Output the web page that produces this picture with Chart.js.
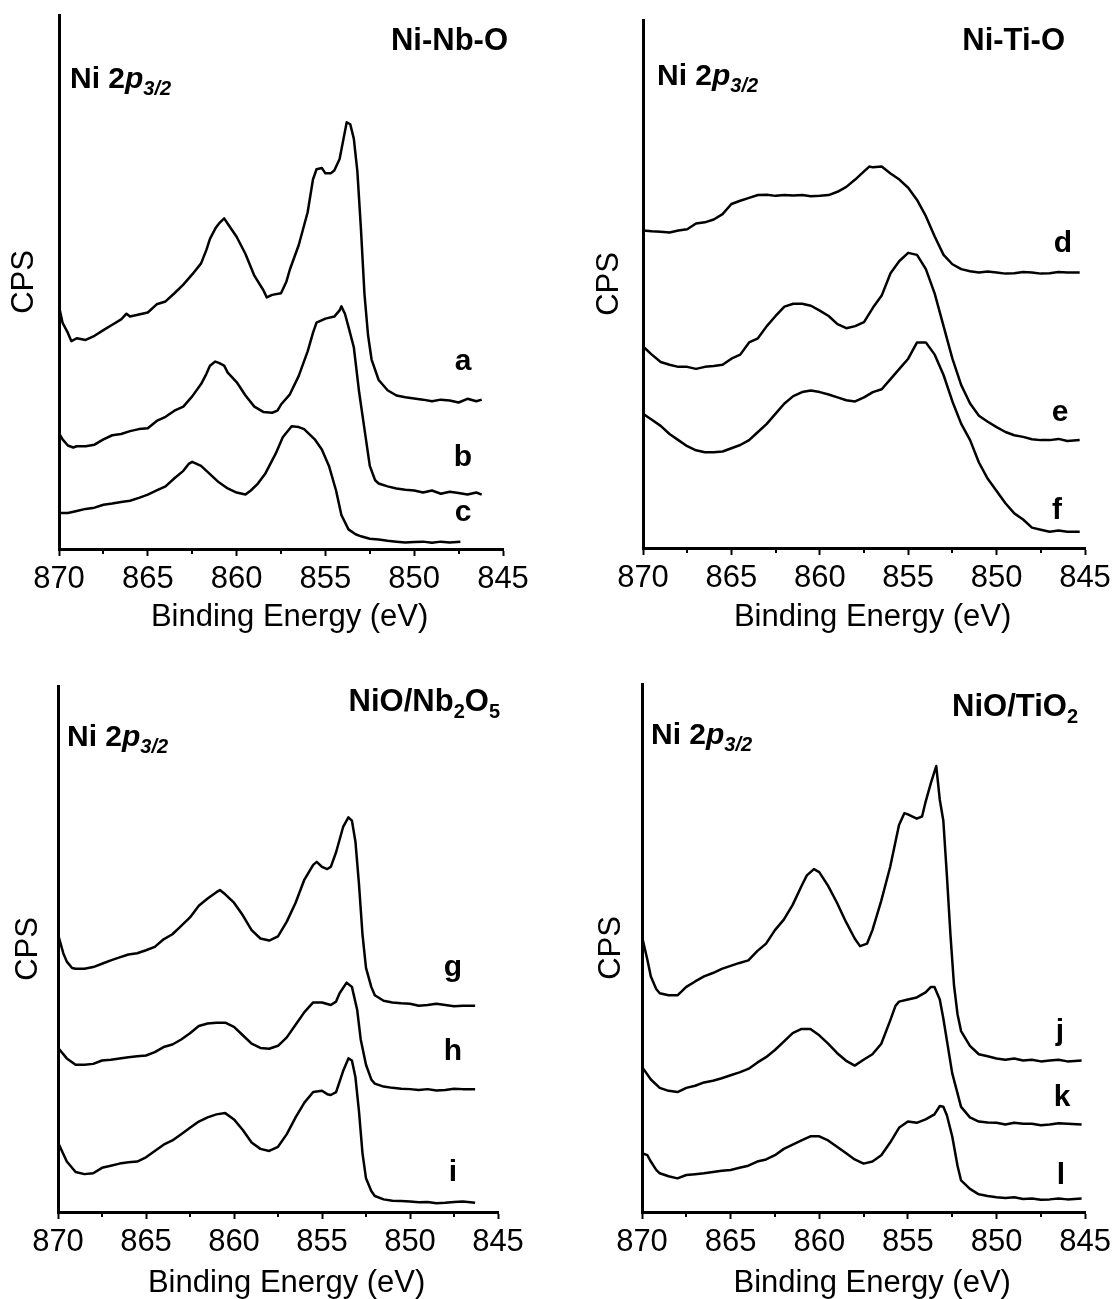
<!DOCTYPE html>
<html>
<head>
<meta charset="utf-8">
<script src="https://cdn.jsdelivr.net/npm/chart.js@4.4.0/dist/chart.umd.min.js"></script>
<style>
  body { margin: 0; background: #fff; width: 1116px; height: 1299px; position: relative; overflow: hidden; }
  canvas { position: absolute; }
</style>
</head>
<body>
<canvas id="p1" width="558" height="640" style="left:0;top:0"></canvas>
<canvas id="p2" width="558" height="640" style="left:558px;top:0"></canvas>
<canvas id="p3" width="558" height="652" style="left:0;top:650px"></canvas>
<canvas id="p4" width="558" height="652" style="left:558px;top:650px"></canvas>
<script>
// x axis: binding energy, shown reversed
var energyTicks = [870, 865, 860, 855, 850, 845];
var energyMinorTicks = [867.5, 862.5, 857.5, 852.5, 847.5];
var xLabel = "\u00a0\u00a0Binding Energy (eV)";
var yLabel = "CPS";

// spectra: [binding energy (eV), counts (arb. units)]
var specA = [[870,593],[869.8,553],[869.5,528],[869.3,508],[869,515],[868.5,511],[868,521],[867.5,535],[867,548],[866.5,561],[866.2,575],[866,568],[865.5,573],[865,578],[864.5,598],[864,605],[863.5,625],[863,646],[862.5,671],[862,698],[861.7,731],[861.5,758],[861.2,783],[861,795],[860.7,808],[860.5,795],[860,763],[859.5,721],[859,668],[858.5,633],[858.3,615],[858,621],[857.5,625],[857.2,653],[857,683],[856.5,743],[856,823],[855.7,903],[855.5,928],[855.2,931],[855,918],[854.7,918],[854.5,925],[854.2,953],[854,998],[853.8,1043],[853.6,1038],[853.4,1003],[853.2,923],[853,783],[852.8,623],[852.6,523],[852.4,463],[852,413],[851.5,388],[851,375],[850.5,371],[850,368],[849.5,365],[849,361],[848.5,365],[848,363],[847.5,358],[847,367],[846.5,361],[846.2,365]];
var specB = [[870,283],[869.8,268],[869.5,253],[869.2,248],[869,251],[868.5,251],[868,255],[867.5,268],[867,278],[866.5,281],[866,288],[865.5,293],[865,295],[864.5,313],[864,323],[863.5,338],[863,348],[862.5,373],[862,403],[861.7,428],[861.5,448],[861.2,458],[861,455],[860.7,448],[860.5,431],[860,408],[859.5,375],[859,348],[858.5,335],[858,333],[857.7,338],[857.5,353],[857,378],[856.5,423],[856,483],[855.7,528],[855.5,553],[855,563],[854.5,568],[854.2,583],[854.1,593],[853.9,575],[853.7,543],[853.4,493],[853.1,383],[852.8,293],[852.5,203],[852.2,168],[852,160],[851.5,153],[851,148],[850.5,145],[850,143],[849.5,138],[849,143],[848.5,135],[848,140],[847.5,137],[847,133],[846.5,138],[846.2,133]];
var specC = [[870,88],[869.5,88],[869,93],[868.5,98],[868,101],[867.5,108],[867,111],[866.5,115],[866,118],[865.5,125],[865,133],[864.5,143],[864,153],[863.5,173],[863,191],[862.7,208],[862.5,213],[862,203],[861.5,183],[861,163],[860.5,148],[860,138],[859.5,133],[859.2,143],[858.8,160],[858.4,183],[857.8,233],[857.4,273],[856.9,300],[856.5,298],[856.2,293],[855.6,268],[855.2,243],[854.8,203],[854.4,143],[854.1,83],[853.7,48],[853.3,36],[853,31],[852.5,25],[852,23],[851.5,20],[851,18],[850.5,16],[850,17],[849.5,18],[849,15],[848.5,18],[848,16],[847.4,18]];

var specD = [[870,780],[869.5,778],[869,777],[868.5,775],[868,780],[867.5,783],[867,797],[866.5,800],[866,807],[865.5,820],[865,845],[864.5,853],[864,860],[863.5,867],[863,868],[862.5,865],[862,867],[861.5,866],[861,867],[860.5,864],[860,865],[859.5,867],[859,875],[858.5,887],[858,905],[857.5,925],[857.2,937],[857,935],[856.5,937],[856,920],[855.5,905],[855,885],[854.5,855],[854,815],[853.5,765],[853,720],[852.5,697],[852,685],[851.5,680],[851,677],[850.5,679],[850,677],[849.5,674],[849,675],[848.5,678],[848,677],[847.5,674],[847,675],[846.5,678],[846,677],[845.3,677]];
var specE = [[870,495],[869.5,475],[869,457],[868.5,450],[868,445],[867.5,445],[867,440],[866.5,445],[866,447],[865.5,450],[865,465],[864.5,475],[864,505],[863.5,515],[863,545],[862.5,570],[862,593],[861.5,600],[861,600],[860.5,595],[860,583],[859.5,570],[859,550],[858.5,540],[858,545],[857.5,555],[857,590],[856.5,620],[856,675],[855.5,705],[855,725],[854.5,720],[854,685],[853.5,625],[853,545],[852.5,465],[852,400],[851.5,355],[851,325],[850.5,310],[850,297],[849.5,285],[849,277],[848.5,273],[848,267],[847.5,265],[847,265],[846.5,268],[846,263],[845.3,265]];
var specF = [[870,330],[869.5,315],[869,300],[868.5,280],[868,265],[867.5,250],[867,240],[866.5,235],[866,235],[865.5,237],[865,245],[864.5,253],[864,265],[863.5,285],[863,305],[862.5,330],[862,355],[861.5,373],[861,383],[860.5,387],[860,383],[859.5,377],[859,370],[858.5,363],[858,360],[857.5,370],[857,383],[856.5,390],[856,415],[855.5,440],[855,465],[854.5,505],[854,505],[853.5,475],[853,425],[852.5,360],[852,305],[851.5,265],[851,210],[850.5,170],[850,140],[849.5,110],[849,85],[848.5,70],[848,50],[847.5,45],[847,40],[846.5,43],[846,40],[845.3,40]];

var specG = [[870,660],[869.7,615],[869.5,595],[869.2,580],[869,578],[868.5,578],[868,582],[867.5,590],[867,598],[866.5,605],[866,612],[865.5,615],[865,622],[864.5,630],[864,648],[863.5,660],[863,680],[862.5,700],[862,728],[861.5,745],[861,760],[860.8,765],[860.5,755],[860,735],[859.5,705],[859,670],[858.5,650],[858,645],[857.5,655],[857,690],[856.5,735],[856,790],[855.5,825],[855.3,832],[855,820],[854.7,815],[854.5,820],[854.2,855],[853.8,915],[853.5,938],[853.3,930],[853.1,880],[852.9,780],[852.7,660],[852.5,580],[852.2,535],[852,515],[851.5,502],[851,498],[850.5,496],[850,495],[849.5,490],[849,492],[848.5,495],[848,492],[847.5,489],[847,490],[846.3,490]];
var specH = [[870,390],[869.5,365],[869,350],[868.5,350],[868,352],[867.5,360],[867,362],[866.5,365],[866,368],[865.5,370],[865,372],[864.5,380],[864,392],[863.5,398],[863,410],[862.5,425],[862,442],[861.5,448],[861,450],[860.5,450],[860,440],[859.5,420],[859,400],[858.5,390],[858,388],[857.5,395],[857,415],[856.5,445],[856,475],[855.5,498],[855,498],[854.5,492],[854.2,500],[854,520],[853.6,545],[853.3,535],[853,480],[852.8,410],[852.5,350],[852.2,315],[852,305],[851.5,298],[851,295],[850.5,293],[850,292],[849.5,290],[849,292],[848.5,289],[848,290],[847.5,293],[847,292],[846.3,292]];
var specI = [[870,165],[869.5,120],[869,95],[868.5,90],[868,92],[867.5,105],[867,110],[866.5,115],[866,118],[865.5,120],[865,130],[864.5,145],[864,160],[863.5,170],[863,185],[862.5,200],[862,215],[861.5,225],[861,232],[860.5,235],[860,220],[859.5,195],[859,165],[858.5,150],[858,145],[857.5,155],[857,185],[856.5,225],[856,260],[855.5,285],[855,288],[854.7,280],[854.5,278],[854.2,285],[853.8,335],[853.5,365],[853.3,360],[853.1,320],[852.9,240],[852.7,140],[852.5,80],[852.2,50],[852,38],[851.5,30],[851,27],[850.5,26],[850,25],[849.5,23],[849,24],[848.5,21],[848,22],[847.5,24],[847,25],[846.3,22]];

var specJ = [[870,655],[869.7,600],[869.5,560],[869.2,530],[869,520],[868.5,515],[868,515],[867.5,535],[867,548],[866.5,560],[866,568],[865.5,578],[865,585],[864.5,592],[864,598],[863.5,620],[863,638],[862.5,670],[862,695],[861.5,730],[861,775],[860.7,800],[860.3,815],[860,808],[859.5,775],[859,735],[858.5,690],[858,650],[857.7,632],[857.3,638],[857,670],[856.5,740],[856,820],[855.7,880],[855.5,920],[855.2,948],[855,945],[854.5,935],[854.2,940],[854,975],[853.7,1020],[853.4,1060],[853.2,980],[853,930],[852.8,800],[852.6,660],[852.4,540],[852.2,470],[852,430],[851.5,395],[851,375],[850.5,370],[850,365],[849.5,362],[849,365],[848.5,360],[848,362],[847.5,358],[847,360],[846.5,362],[846,358],[845.2,360]];
var specK = [[870,345],[869.5,315],[869,295],[868.5,288],[868,285],[867.5,295],[867,300],[866.5,308],[866,312],[865.5,318],[865,325],[864.5,332],[864,340],[863.5,355],[863,368],[862.5,385],[862,405],[861.5,425],[861,435],[860.5,435],[860,420],[859.5,400],[859,378],[858.5,360],[858,348],[857.5,362],[857,375],[856.5,400],[856,455],[855.7,490],[855.5,500],[855,505],[854.5,510],[854,522],[853.7,535],[853.5,535],[853.2,505],[853,460],[852.5,330],[852,250],[851.5,225],[851,215],[850.5,213],[850,212],[849.5,208],[849,212],[848.5,210],[848,210],[847.5,206],[847,208],[846.5,211],[846,210],[845.2,208]];
var specL = [[870,140],[869.7,135],[869.5,120],[869.2,100],[869,92],[868.5,85],[868,80],[867.5,88],[867,90],[866.5,92],[866,95],[865.5,98],[865,100],[864.5,105],[864,110],[863.5,120],[863,125],[862.5,135],[862,150],[861.5,160],[861,170],[860.5,180],[860,180],[859.5,170],[859,155],[858.5,140],[858,125],[857.5,115],[857,120],[856.5,135],[856,165],[855.5,200],[855,215],[854.5,212],[854,220],[853.5,232],[853.2,252],[853,250],[852.8,230],[852.5,180],[852.2,110],[852,75],[851.5,55],[851,42],[850.5,38],[850,35],[849.5,33],[849,35],[848.5,31],[848,32],[847.5,29],[847,30],[846.5,32],[846,30],[845.2,32]];

var FONT = "'Liberation Sans', Arial, sans-serif";
Chart.defaults.font.family = FONT;
Chart.defaults.color = "#000";

function bold(size, italic) {
  return (italic ? "italic " : "") + "bold " + size + "px " + FONT;
}

// text runs: [text, font, baseline shift]
function niLabel() {
  return [["Ni 2", bold(30)], ["p", bold(30, true)], ["3/2", bold(20, true), 7]];
}
function letter(t) {
  return [[t, bold(30)]];
}

var panels = {
  p1: {
    left: 0, top: 0, area: {left: 59, right: 503, top: 15, bottom: 549},
    yMax: 1305, cpsPad: 6, titlePad: 4,
    series: [specA, specB, specC],
    texts: [
      {x: 508, y: 50, align: "right", runs: [["Ni-Nb-O", bold(31)]]},
      {x: 70, y: 88, align: "left", runs: niLabel()},
      {x: 463, y: 370, align: "center", runs: letter("a")},
      {x: 463, y: 466, align: "center", runs: letter("b")},
      {x: 463, y: 521, align: "center", runs: letter("c")}
    ]
  },
  p2: {
    left: 558, top: 0, area: {left: 85, right: 527, top: 20, bottom: 548},
    yMax: 1297, cpsPad: 33, titlePad: 4,
    series: [specD, specE, specF],
    texts: [
      {x: 1065, y: 50, align: "right", runs: [["Ni-Ti-O", bold(31)]]},
      {x: 657, y: 85, align: "left", runs: niLabel()},
      {x: 1063, y: 252, align: "center", runs: letter("d")},
      {x: 1060, y: 421, align: "center", runs: letter("e")},
      {x: 1057, y: 519, align: "center", runs: letter("f")}
    ]
  },
  p3: {
    left: 0, top: 650, area: {left: 58, right: 498, top: 36, bottom: 562},
    yMax: 1250, cpsPad: 10, titlePad: 0,
    series: [specG, specH, specI],
    texts: [
      {x: 500, y: 711, align: "right", runs: [["NiO/Nb", bold(31)], ["2", bold(20), 7], ["O", bold(31)], ["5", bold(20), 7]]},
      {x: 67, y: 746, align: "left", runs: niLabel()},
      {x: 453, y: 976, align: "center", runs: letter("g")},
      {x: 453, y: 1060, align: "center", runs: letter("h")},
      {x: 453, y: 1181, align: "center", runs: letter("i")}
    ]
  },
  p4: {
    left: 558, top: 650, area: {left: 84, right: 529, top: 34, bottom: 562},
    yMax: 1255, cpsPad: 35, titlePad: 0,
    series: [specJ, specK, specL],
    texts: [
      {x: 1078, y: 716, align: "right", runs: [["NiO/TiO", bold(31)], ["2", bold(20), 7]]},
      {x: 651, y: 744, align: "left", runs: niLabel()},
      {x: 1060, y: 1040, align: "center", runs: letter("j")},
      {x: 1062, y: 1106, align: "center", runs: letter("k")},
      {x: 1061, y: 1184, align: "center", runs: letter("l")}
    ]
  }
};

function drawRuns(ctx, runs, x, y, align) {
  var total = 0;
  runs.forEach(function (r) { ctx.font = r[1]; total += ctx.measureText(r[0]).width; });
  var cx = align === "right" ? x - total : align === "center" ? x - total / 2 : x;
  runs.forEach(function (r) {
    ctx.font = r[1];
    ctx.fillText(r[0], cx, y + (r[2] || 0));
    cx += ctx.measureText(r[0]).width;
  });
}

var panelExtras = {
  id: "panelExtras",
  afterDraw: function (chart) {
    var p = panels[chart.canvas.id];
    var ctx = chart.ctx;
    var xs = chart.scales.x;
    ctx.save();
    // short minor ticks under the axis
    ctx.strokeStyle = "#000";
    ctx.lineWidth = 2;
    energyMinorTicks.forEach(function (v) {
      var px = Math.round(xs.getPixelForValue(v));
      ctx.beginPath();
      ctx.moveTo(px, xs.top);
      ctx.lineTo(px, xs.top + 5);
      ctx.stroke();
    });
    ctx.fillStyle = "#000";
    ctx.textAlign = "left";
    ctx.textBaseline = "alphabetic";
    p.texts.forEach(function (t) {
      drawRuns(ctx, t.runs, t.x - p.left, t.y - p.top, t.align);
    });
    ctx.restore();
  }
};

Object.keys(panels).forEach(function (id) {
  var p = panels[id];
  var canvas = document.getElementById(id);
  var W = canvas.width, H = canvas.height;
  new Chart(canvas, {
    type: "line",
    data: {
      datasets: p.series.map(function (s) {
        return {
          data: s.map(function (d) { return {x: d[0], y: d[1]}; }),
          borderColor: "#000",
          borderWidth: 2.5,
          borderJoinStyle: "round",
          pointRadius: 0,
          tension: 0,
          fill: false
        };
      })
    },
    options: {
      responsive: false,
      animation: false,
      events: [],
      layout: {padding: {left: 0, top: p.area.top, right: W - p.area.right, bottom: 0}},
      plugins: {legend: {display: false}, tooltip: {enabled: false}},
      scales: {
        x: {
          type: "linear",
          reverse: true,
          min: 845,
          max: 870,
          afterFit: function (scale) { scale.height = H - p.area.bottom; },
          afterBuildTicks: function (scale) {
            scale.ticks = energyTicks.map(function (v) { return {value: v}; });
          },
          ticks: {
            autoSkip: false,
            maxRotation: 0,
            padding: 5,
            font: {size: 31},
            color: "#000"
          },
          grid: {drawOnChartArea: false, drawTicks: true, tickLength: 7, tickWidth: 2, tickColor: "#000"},
          border: {display: true, color: "#000", width: 3},
          title: {display: true, text: xLabel, font: {size: 31}, color: "#000", padding: {top: 0, bottom: p.titlePad}}
        },
        y: {
          min: 0,
          max: p.yMax,
          afterFit: function (scale) { scale.width = p.area.left; },
          ticks: {display: false},
          grid: {drawOnChartArea: false, drawTicks: false},
          border: {display: true, color: "#000", width: 3},
          title: {display: true, text: yLabel, font: {size: 31}, color: "#000", padding: {top: p.cpsPad, bottom: 0}}
        }
      }
    },
    plugins: [panelExtras]
  });
});
</script>
</body>
</html>
